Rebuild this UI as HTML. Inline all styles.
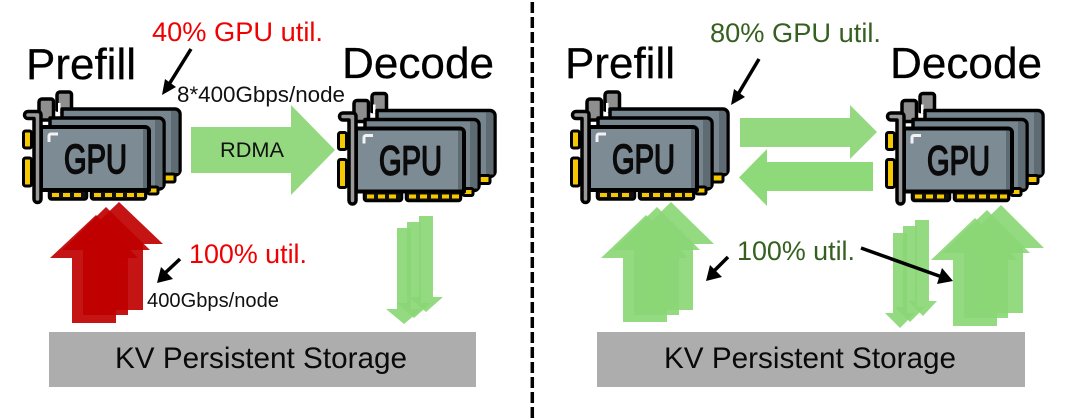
<!DOCTYPE html>
<html><head><meta charset="utf-8"><style>
html,body{margin:0;padding:0;background:#fff;width:1080px;height:418px;overflow:hidden}
svg{display:block;filter:blur(.35px)}
text{font-family:"Liberation Sans",sans-serif}
.g{fill:#0b0b0b;stroke:#0b0b0b;stroke-width:1.700;stroke-linejoin:round}
</style></head><body>
<svg width="1080" height="418" viewBox="0 0 1080 418" xmlns="http://www.w3.org/2000/svg">
<defs>
<g id="card">
 <!-- back bracket -->
 <path d="M57 110V95a3 3 0 0 1 3-3H69a2.500 2.500 0 0 1 2.500 2.500V112Z" fill="#8e8e8e" stroke="#000" stroke-width="3.500" stroke-linejoin="round"/>
 <rect x="58" y="103" width="2.500" height="9" fill="#fff"/>
 <!-- back card -->
 <path d="M62 109H175a5 5 0 0 1 5 5V170a5 5 0 0 1-5 5H62Z" fill="#77858e" stroke="#000" stroke-width="3.500" stroke-linejoin="round"/>
 <path d="M171 111h4a3.500 3.500 0 0 1 3.500 3.500V173h-7.500Z" fill="#5f6b73"/>
 <rect x="163" y="174" width="12" height="8" rx="1.500" fill="#f5c800" stroke="#000" stroke-width="3"/>
 <!-- middle bracket -->
 <path d="M39 120V102a3 3 0 0 1 3-3H51a2.500 2.500 0 0 1 2.500 2.500V120Z" fill="#8e8e8e" stroke="#000" stroke-width="3.500" stroke-linejoin="round"/>
 <!-- middle card -->
 <path d="M50 118H159a5 5 0 0 1 5 5V184a5 5 0 0 1-5 5H50Z" fill="#77858e" stroke="#000" stroke-width="3.500" stroke-linejoin="round"/>
 <path d="M155 120h4a3.500 3.500 0 0 1 3.500 3.500V187h-7.500Z" fill="#5f6b73"/>
 <rect x="148" y="187" width="10" height="7" rx="1.500" fill="#f5c800" stroke="#000" stroke-width="3"/>
 <!-- left contacts -->
 <rect x="23.500" y="131" width="8" height="17" rx="2" fill="#f5c800" stroke="#000" stroke-width="3"/>
 <rect x="23.500" y="158" width="8" height="28" rx="2" fill="#f5c800" stroke="#000" stroke-width="3"/>
 <!-- bottom contacts -->
 <rect x="49" y="190" width="38" height="9.500" rx="2.500" fill="#111" stroke="#000" stroke-width="2.500"/>
 <rect x="91" y="190" width="55" height="9.500" rx="2.500" fill="#111" stroke="#000" stroke-width="2.500"/>
 <g fill="#f5c800"><rect x="52" y="193" width="7" height="4"/><rect x="63" y="193" width="7" height="4"/><rect x="74" y="193" width="7" height="4"/><rect x="94" y="193" width="7" height="4"/><rect x="105" y="193" width="7" height="4"/><rect x="116" y="193" width="7" height="4"/><rect x="127" y="193" width="7" height="4"/><rect x="137" y="193" width="7" height="4"/></g>
 <!-- front card -->
 <path d="M41 127H145a4 4 0 0 1 4 4V190H41Z" fill="#7d8b94" stroke="#000" stroke-width="4" stroke-linejoin="round"/>
 <path d="M143 129h2a2 2 0 0 1 2 2V188h-4Z" fill="#5f6b73"/>
 <path d="M49 142v-6a2 2 0 0 1 2-2h7" fill="none" stroke="#f2f2f2" stroke-width="3"/>
 <!-- bracket -->
 <path d="M24.500 115a3.500 3.500 0 0 1 3.500-3.500H38a3 3 0 0 1 3 3V199a3.500 3.500 0 0 1-7 0V118.500H28A3.500 3.500 0 0 1 24.500 115Z" fill="#9a9a9a" stroke="#000" stroke-width="3.500" stroke-linejoin="round"/>
</g>
</defs>

<!-- divider -->
<line x1="532.300" y1="2" x2="532.300" y2="418" stroke="#000" stroke-width="3.500" stroke-dasharray="11 4"/>

<!-- GPU icons -->
<use href="#card"/>
<use href="#card" transform="translate(315 1.500)"/>
<use href="#card" transform="translate(548 0)"/>
<use href="#card" transform="translate(863 1.500)"/>
<g class="g" font-size="41">
<text x="64" y="173" textLength="63" lengthAdjust="spacingAndGlyphs">GPU</text>
<text x="379" y="174.500" textLength="63" lengthAdjust="spacingAndGlyphs">GPU</text>
<text x="612" y="173" textLength="63" lengthAdjust="spacingAndGlyphs">GPU</text>
<text x="927" y="174.500" textLength="63" lengthAdjust="spacingAndGlyphs">GPU</text>
</g>

<!-- left red arrows -->
<g fill="#c00000" fill-opacity=".92">
<polygon points="119,202 163,244 143,244 143,310 98,310 98,244 75,244"/>
<polygon points="106,207 150,250 128,250 128,315 83,315 83,250 62,250"/>
<polygon points="96,215 138,258 116,258 116,323 72,323 72,258 50,258"/>
</g>
<!-- left green down -->
<g fill="#8bd776" fill-opacity=".93">
<polygon points="419,216 433,216 433,297 443,297 426,312 409,297 419,297"/>
<polygon points="407,222 421,222 421,303 431,303 414,318 397,303 407,303"/>
<polygon points="397,228 411,228 411,309 422,309 404,324 386,309 397,309"/>
</g>
<!-- RDMA arrow -->
<polygon points="191,127 291,127 291,105 335,150 291,195 291,173 191,173" fill="#94d97f"/>
<text x="220" y="157" font-size="21.500" textLength="64" lengthAdjust="spacingAndGlyphs" fill="#111">RDMA</text>

<!-- right horizontal arrows -->
<polygon points="740,118 850,118 850,105 877,132 850,159 850,147 740,147" fill="#94d97f"/>
<polygon points="873,162 767,162 767,149 739,177.500 767,206 767,191 873,191" fill="#8ed97a"/>

<!-- right up arrows -->
<g fill="#8bd776" fill-opacity=".93">
<polygon points="671,202 714,244 693,244 693,310 649,310 649,244 628,244"/>
<polygon points="657,207 700,250 679,250 679,315 634,315 634,250 613,250"/>
<polygon points="646,215 688,258 667,258 667,322 623,322 623,258 601,258"/>
<polygon points="1001,205 1044,248 1023,248 1023,313 979,313 979,248 957,248"/>
<polygon points="987,210 1030,253 1008,253 1008,318 964,318 964,253 942,253"/>
<polygon points="975,218 1018,260 997,260 997,326 953,326 953,260 931,260"/>
</g>
<!-- right down arrows -->
<g fill="#8bd776" fill-opacity=".93">
<polygon points="915,220 929,220 929,301 937,301 923,316 908,301 915,301"/>
<polygon points="903,226 917,226 917,307 925,307 910,322 895,307 903,307"/>
<polygon points="893,233 907,233 907,313 915,313 900,328 885,313 893,313"/>
</g>

<!-- storage -->
<rect x="49" y="332" width="427" height="55" fill="#adadad"/>
<rect x="597" y="332" width="428" height="55" fill="#adadad"/>
<text x="115" y="368" font-size="29.500" textLength="292" lengthAdjust="spacingAndGlyphs" fill="#0a0a0a">KV Persistent Storage</text>
<text x="664" y="368" font-size="29.500" textLength="292" lengthAdjust="spacingAndGlyphs" fill="#0a0a0a">KV Persistent Storage</text>

<!-- headings -->
<g font-size="44" fill="#000" stroke="#000" stroke-width=".3">
<text x="26" y="79" textLength="110" lengthAdjust="spacingAndGlyphs">Prefill</text>
<text x="342" y="78" textLength="152" lengthAdjust="spacingAndGlyphs">Decode</text>
<text x="565" y="78" textLength="110" lengthAdjust="spacingAndGlyphs">Prefill</text>
<text x="890" y="78" textLength="152" lengthAdjust="spacingAndGlyphs">Decode</text>
</g>

<!-- labels -->
<g fill="#f00000" font-size="27">
<text x="152" y="41" textLength="171" lengthAdjust="spacingAndGlyphs">40% GPU util.</text>
<text x="189" y="263" textLength="118" lengthAdjust="spacingAndGlyphs">100% util.</text>
</g>
<g fill="#35601f" font-size="27">
<text x="710" y="42" textLength="171" lengthAdjust="spacingAndGlyphs">80% GPU util.</text>
<text x="737" y="260" textLength="118" lengthAdjust="spacingAndGlyphs">100% util.</text>
</g>
<text x="177" y="102" font-size="22.400" textLength="168" lengthAdjust="spacingAndGlyphs" fill="#111">8*400Gbps/node</text>
<text x="147" y="307" font-size="20" textLength="132" lengthAdjust="spacingAndGlyphs" fill="#111">400Gbps/node</text>

<!-- black pointer arrows -->
<g stroke="#000" stroke-width="3.500" fill="none">
<line x1="191" y1="49" x2="168" y2="86"/>
<line x1="180" y1="259" x2="164" y2="274"/>
<line x1="759" y1="59" x2="737" y2="96"/>
<line x1="728" y1="257" x2="713" y2="272"/>
<line x1="861" y1="248" x2="942" y2="277"/>
</g>
<g fill="#000">
<polygon points="162,95 165,79 176,87"/>
<polygon points="157,283 161,267 173,279"/>
<polygon points="731,105 734,89 745,97"/>
<polygon points="706,281 710,265 722,277"/>
<polygon points="953,281 937,284 942,268"/>
</g>
</svg>
</body></html>
